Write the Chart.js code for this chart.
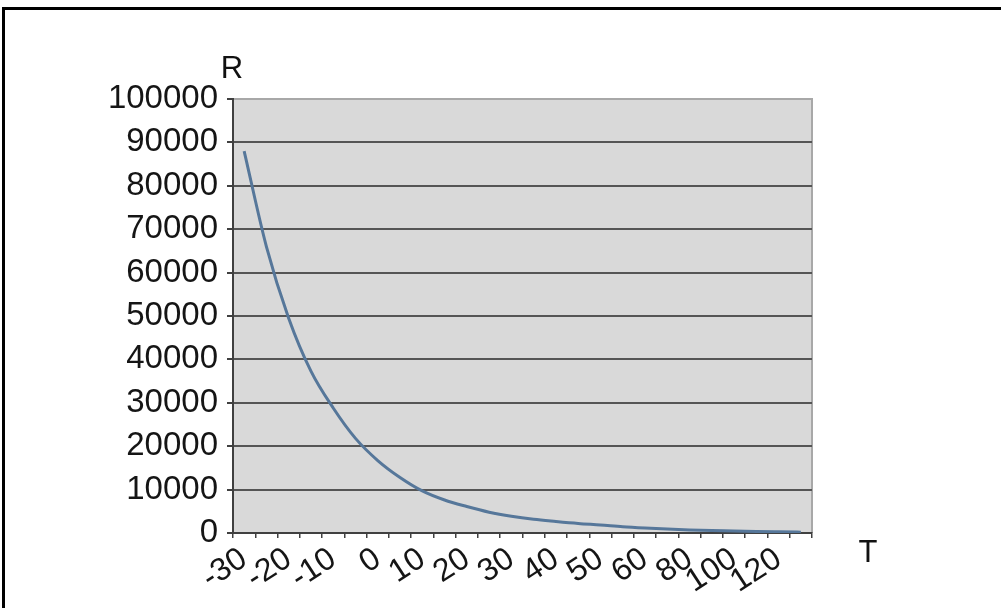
<!DOCTYPE html>
<html>
<head>
<meta charset="utf-8">
<script src="https://cdn.jsdelivr.net/npm/chart.js@4.4.1/dist/chart.umd.min.js"></script>
<style>
  html, body { margin: 0; padding: 0; background: #fff; }
  #wrap { position: relative; width: 1001px; height: 608px; }
  #frame {
    position: absolute; left: 2px; top: 7px; width: 1010px; height: 620px;
    border-top: 3px solid #000; border-left: 3px solid #000; pointer-events: none;
  }
</style>
</head>
<body>
<div id="wrap">
  <canvas id="ntcChart"></canvas>
  <div id="frame"></div>
</div>
<script>
// temperature categories (T) and resistance readings (R)
const temps = [-30, -25, -20, -15, -10, -5, 0, 5, 10, 15, 20, 25, 30, 35, 40, 45, 50, 55, 60,
               70, 80, 90, 100, 110, 120, 130];
const resistance = [88000, 66000, 49500, 37300, 28800, 21800, 16700, 12800, 9700, 7600, 6100, 4800,
                    3850, 3150, 2650, 2200, 1850, 1450, 1150, 900, 700, 550, 470, 350, 270, 200];
// only every other category gets a label
const xTickLabels = ['-30', '', '-20', '', '-10', '', '0', '', '10', '', '20', '', '30', '', '40', '',
                     '50', '', '60', '', '80', '', '100', '', '120', ''];
const yTicks = [0, 10000, 20000, 30000, 40000, 50000, 60000, 70000, 80000, 90000, 100000];

const FONT = 'Liberation Sans, Arial, sans-serif';

const plotArea = {
    id: 'plotArea',
    beforeDraw(chart) {
        const { ctx, chartArea: a } = chart;
        ctx.save();
        ctx.fillStyle = '#d9d9d9';
        ctx.fillRect(a.left, a.top, a.right - a.left, a.bottom - a.top);
        ctx.strokeStyle = '#a8a8a8';
        ctx.lineWidth = 2;
        ctx.beginPath();
        ctx.moveTo(a.left, a.top);
        ctx.lineTo(a.right, a.top);
        ctx.lineTo(a.right, a.bottom);
        ctx.stroke();
        ctx.restore();
    },
    afterDraw(chart) {
        const { ctx, chartArea: a } = chart;
        ctx.save();
        ctx.fillStyle = '#111';
        ctx.font = '31px ' + FONT;
        ctx.textAlign = 'center';
        ctx.textBaseline = 'alphabetic';
        ctx.fillText('R', a.left - 1, 78);
        ctx.fillText('T', a.right + 56, 562);
        ctx.restore();
    }
};

const ctx = document.getElementById('ntcChart').getContext('2d');
new Chart(ctx, {
    type: 'line',
    data: {
        labels: temps,
        datasets: [{
            label: 'R',
            data: resistance,
            borderColor: '#56779a',
            borderWidth: 3,
            pointRadius: 0,
            fill: false,
            cubicInterpolationMode: 'monotone'
        }]
    },
    options: {
        responsive: true,
        maintainAspectRatio: false,
        animation: false,
        layout: { padding: { top: 99, right: 189, left: 0, bottom: 0 } },
        plugins: {
            legend: { display: false },
            tooltip: { enabled: false }
        },
        scales: {
            x: {
                type: 'category',
                offset: true,
                grid: {
                    offset: true,
                    drawOnChartArea: false,
                    drawTicks: true,
                    tickLength: 5,
                    color: '#404040',
                    lineWidth: 1.5
                },
                border: { display: true, color: '#404040', width: 2 },
                ticks: {
                    autoSkip: false,
                    maxRotation: 33,
                    minRotation: 33,
                    padding: 2,
                    color: '#151515',
                    font: { family: FONT, size: 32 },
                    callback: (val, i) => xTickLabels[i]
                },
                afterFit: (scale) => { scale.height = 75; }
            },
            y: {
                min: 0,
                max: 100000,
                afterBuildTicks: (scale) => { scale.ticks = yTicks.map(v => ({ value: v })); },
                grid: {
                    color: (c) => c.tick && c.tick.value === 100000 ? '#a8a8a8' : '#555555',
                    lineWidth: 2,
                    tickLength: 6,
                    tickColor: '#404040',
                    tickWidth: 2
                },
                border: { display: true, color: '#404040', width: 2 },
                ticks: {
                    padding: 9,
                    color: '#151515',
                    font: { family: FONT, size: 33 },
                    callback: (val) => String(val)
                },
                afterFit: (scale) => { scale.width = 233; }
            }
        }
    },
    plugins: [plotArea]
});
</script>
</body>
</html>
